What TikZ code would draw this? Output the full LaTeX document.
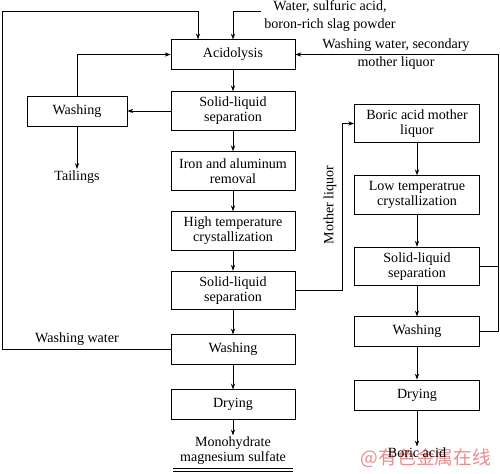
\documentclass[tikz,border=0pt]{standalone}
\usepackage{fontspec}
\setmainfont{Liberation Serif}
\newfontfamily\cjkwm{Noto Sans CJK SC}
\usetikzlibrary{arrows.meta,calc,positioning}

\begin{document}
\begin{tikzpicture}[x=0.03cm,y=-0.03cm,>={Stealth[length=5pt,width=3.6pt]},
    font=\fontsize{12}{13}\selectfont,line width=0.7pt,
    proc/.style={draw,minimum width=3.72cm,minimum height=0.88cm,align=center,inner sep=1pt},
    proctall/.style={proc,minimum height=1.16cm},
    rproc/.style={proc,minimum width=3.75cm},
    rproctall/.style={rproc,minimum height=1.16cm},
    lbl/.style={inner sep=1pt,align=center}]
    \useasboundingbox (0,0) rectangle (500,474);
    % magnesium sulfate line
    \node[proc] (acid) at (233,54.5) {Acidolysis};
    \node[proctall] (sls1) at (233,111) {Solid-liquid\\separation};
    \node[proctall] (iron) at (233,171) {Iron and aluminum\\removal};
    \node[proctall] (hicr) at (233,231) {High temperature\\crystallization};
    \node[proctall] (sls2) at (233,290.5) {Solid-liquid\\separation};
    \node[proc] (wash) at (233,349.5) {Washing};
    \node[proc] (dry) at (233,404.5) {Drying};
    \node[lbl] (mgs) at (233,451) {Monohydrate\\magnesium sulfate};
    \draw[line width=0.8pt] (173,468.5) -- (293,468.5);
    \draw[line width=0.8pt] (173,471.5) -- (293,471.5);
    % tailings branch
    \node[proc,minimum width=3cm,minimum height=0.9cm] (lwash) at (77,111) {Washing};
    \node[lbl] (tail) at (77,177) {Tailings};
    % boric acid line
    \node[rproctall] (bml) at (417,123.5) {Boric acid mother\\liquor};
    \node[rproctall] (locr) at (417,195) {Low temperatrue\\crystallization};
    \node[rproctall] (sls3) at (417,266.5) {Solid-liquid\\separation};
    \node[rproc] (rwash) at (417,331.5) {Washing};
    \node[rproc,minimum height=0.9cm] (rdry) at (417,395) {Drying};
    \node[lbl,text={rgb,255:red,238;green,140;blue,140}] (wmark) at (426,458)
      {\cjkwm\fontsize{16}{16}\selectfont @有色金属在线};
    \node[lbl] (bacid) at (417,453) {Boric acid};
    % inputs and labels
    \node[lbl,font=\fontsize{12}{15}\selectfont] (feed) at (330,16) {Water, sulfuric acid,\\boron-rich slag powder};
    \node[lbl] (wwl) at (77,339) {Washing water};
    \node[lbl] (wsl) at (396,54.5) {Washing water, secondary\\[2.5pt]mother liquor};
    \node[lbl,rotate=90] (mll) at (330,205) {Mother liquor};
    \coordinate (feedend) at (261,11);
    \coordinate (lcorner) at (2,11);
    \coordinate (rcorner) at (498,54.5);
    \coordinate (mlx) at (342,122);
    % connectors
    \draw[->] (feedend) -| (acid.north);
    \draw[->] (acid) -- (sls1);
    \draw[->] (sls1) -- (iron);
    \draw[->] (iron) -- (hicr);
    \draw[->] (hicr) -- (sls2);
    \draw[->] (sls2) -- (wash);
    \draw[->] (wash) -- (dry);
    \draw[->] (dry) -- (mgs);
    \draw[->] (sls1.west) -- (lwash.east);
    \draw[->] (lwash.north) |- (acid.west);
    \draw[->] (lwash.south) -- (tail);
    \draw[->] (wash.west) -| (lcorner) -| ([xshift=-1.05cm]acid.north);
    \draw[->] (sls2.east) -| (mlx |- bml.west) -- (bml.west);
    \draw[->] (bml) -- (locr);
    \draw[->] (locr) -- (sls3);
    \draw[->] (sls3) -- (rwash);
    \draw[->] (rwash) -- (rdry);
    \draw[->] (rdry) -- (bacid);
    \draw (sls3.east) -- (sls3.east -| rcorner);
    \draw[->] (rwash.east) -| (rcorner) -- (acid.east);
\end{tikzpicture}
\end{document}
